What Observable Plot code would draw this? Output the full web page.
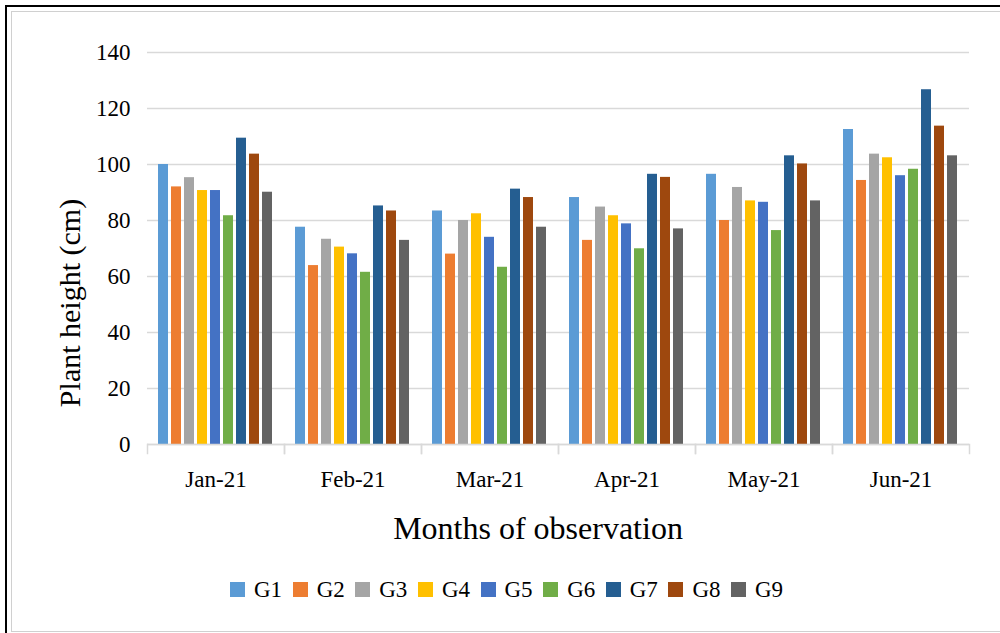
<!DOCTYPE html>
<html><head><meta charset="utf-8">
<script src="https://cdn.jsdelivr.net/npm/d3@7"></script>
<script src="https://cdn.jsdelivr.net/npm/@observablehq/plot@0.6"></script>
<style>
body{margin:0;background:#fff;}
#wrap{position:relative;width:1000px;height:633px;overflow:hidden;font-family:"Liberation Serif",serif;background:#fff;}
#b1{position:absolute;left:5px;top:5px;width:1100px;height:700px;border-left:2px solid #000;border-top:2px solid #000;}
#b2{position:absolute;left:11px;top:11px;width:1100px;height:619px;border:1px solid #d0d0d0;}
#chart{position:absolute;left:0;top:0;}
#legend{position:absolute;left:230px;top:573px;font-family:"Liberation Serif",serif;font-size:23px;color:#000;}
#legend div, #legend span{font-family:"Liberation Serif",serif !important;font-size:23px !important;color:#000 !important;}
#legend > div{margin:0 !important;min-height:33px;display:flex;align-items:center;}
#legend span > svg{margin-right:9px !important;}
#legend div > span{margin-right:10.5px !important;}
</style></head><body>
<div id="wrap"><div id="b1"></div><div id="b2"></div><div id="chart"></div><div id="legend"></div></div>
<script>
const months = ["Jan-21","Feb-21","Mar-21","Apr-21","May-21","Jun-21"];
const groups = ["G1","G2","G3","G4","G5","G6","G7","G8","G9"];
const colors = ["#5B9BD5","#ED7D31","#A5A5A5","#FFC000","#4472C4","#70AD47","#255E91","#9E480E","#636363"];
const jan = [100, 92, 95.3, 90.7, 90.7, 81.7, 109.4, 103.7, 90.1];
const feb = [77.6, 63.9, 73.3, 70.5, 68.1, 61.5, 85.2, 83.4, 72.9];
const mar = [83.4, 68, 80, 82.4, 74, 63.3, 91.2, 88.2, 77.6];
const apr = [88.2, 72.9, 84.8, 81.7, 78.8, 69.9, 96.5, 95.4, 77];
const may = [96.5, 80, 91.8, 87, 86.5, 76.4, 103.1, 100.2, 87];
const jun = [112.5, 94.3, 103.7, 102.4, 96, 98.3, 126.7, 113.7, 103.1];
const yTicks = [0,20,40,60,80,100,120,140];
const series = [jan, feb, mar, apr, may, jun];

const data = [];
months.forEach((m, i) => groups.forEach((g, j) => data.push({month: m, group: g, value: series[i][j]})));

const plot = Plot.plot({
  width: 1000, height: 633,
  marginLeft: 145, marginRight: 30, marginTop: 52, marginBottom: 189,
  style: {fontFamily: '"Liberation Serif", serif', fontSize: "23px", color: "#000", background: "transparent"},
  fx: {domain: months, padding: 0, label: null},
  x: {domain: groups, paddingInner: 0.2, paddingOuter: 0.85, axis: null},
  y: {domain: [0, 140], label: null},
  color: {domain: groups, range: colors},
  marks: [
    Plot.gridY(yTicks, {stroke: "#d9d9d9", strokeOpacity: 1, strokeWidth: 1.5}),
    Plot.barY(data, {fx: "month", x: "group", y: "value", fill: "group"}),
    Plot.ruleY([0], {stroke: "#d9d9d9", strokeWidth: 1.5}),
    Plot.frame({anchor: "left", insetTop: 392, insetBottom: -9, stroke: "#d9d9d9", strokeWidth: 1.5}),
    Plot.frame({anchor: "right", insetTop: 392, insetBottom: -9, stroke: "#d9d9d9", strokeWidth: 1.5}),
    Plot.axisY(yTicks, {tickSize: 0, tickPadding: 17, label: null}),
    Plot.axisFx({anchor: "bottom", tickSize: 0, tickPadding: 26, label: null})
  ]
});
document.getElementById("chart").appendChild(plot);

const svg = d3.select(plot);
svg.append("text")
  .attr("transform", "translate(69,303) rotate(-90)")
  .attr("text-anchor", "middle").attr("dominant-baseline", "central")
  .attr("fill", "#000")
  .style("font-size", "30px").style("font-family", '"Liberation Serif", serif')
  .text("Plant height (cm)");
svg.append("text")
  .attr("x", 538).attr("y", 528)
  .attr("text-anchor", "middle").attr("dominant-baseline", "central")
  .attr("fill", "#000")
  .style("font-size", "32px").style("font-family", '"Liberation Serif", serif')
  .text("Months of observation");

const leg = plot.legend("color", {className: "lg", swatchSize: 15});
document.getElementById("legend").appendChild(leg);
</script>
</body></html>
